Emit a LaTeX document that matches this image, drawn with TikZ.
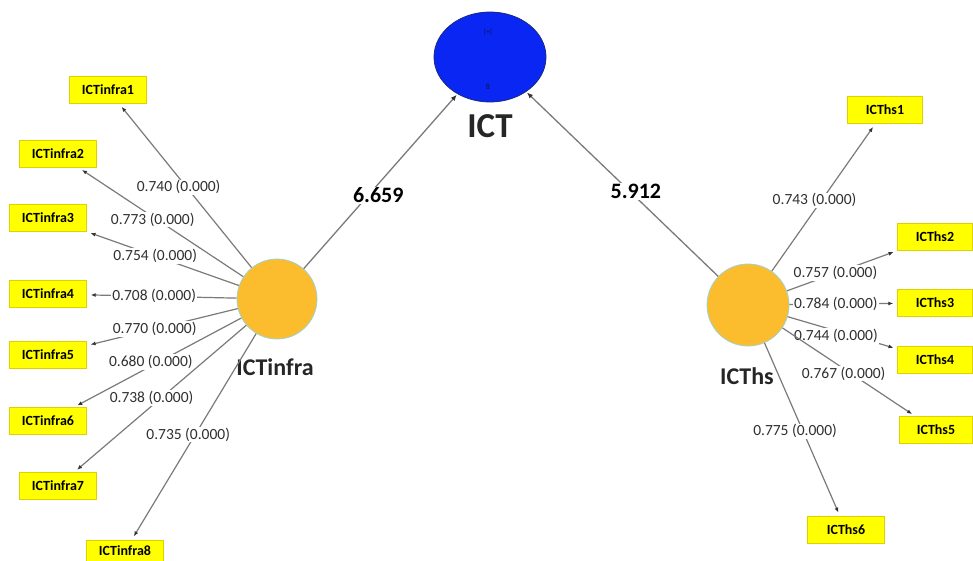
\documentclass[tikz,border=0pt]{standalone}
\usepackage{fontspec}
\setmainfont{Carlito}
\usetikzlibrary{arrows.meta, shapes.geometric}
\definecolor{lvfill}{HTML}{FBBD2E}
\definecolor{lvedge}{HTML}{9FD3D0}
\definecolor{ictfill}{HTML}{0A26F2}
\definecolor{ictedge}{HTML}{1A2A80}
\definecolor{ictmark}{HTML}{10143C}
\definecolor{indfill}{HTML}{FFFF00}
\definecolor{indedge}{HTML}{E0D000}
\definecolor{edge}{HTML}{7A7A7A}
\definecolor{tipdark}{HTML}{333333}
\definecolor{valtext}{HTML}{303030}
\newcommand{\indfont}{\fontsize{14}{16}\selectfont\bfseries}
\newcommand{\valfont}{\fontsize{15.5}{17}\selectfont}

\begin{document}
\begin{tikzpicture}[x=1pt, y=-1pt,
      lv/.style={circle, draw=lvedge, line width=0.8pt, fill=lvfill, minimum size=80pt, inner sep=0pt},
      ind/.style={draw=indedge, line width=0.4pt, fill=indfill, minimum width=77pt, minimum height=27pt,
        inner sep=0pt, font=\indfont},
      ld/.style={draw=edge, line width=1.2pt, -{Latex[length=5pt, width=4pt, color=tipdark]}, shorten >=4pt},
      beta/.style={draw=edge, line width=1.3pt, -{Latex[length=6pt, width=5pt, color=tipdark]}, shorten >=1pt},
      val/.style={fill=white, inner sep=1pt, text=valtext, font=\valfont},
      coef/.style={fill=white, inner sep=1pt, font=\fontsize{22}{24}\selectfont\bfseries},
      lvname/.style={font=\fontsize{24}{26}\selectfont\bfseries, text=black!85}]
    \useasboundingbox (0,0) rectangle (973,560);
    % latent variables
    \node[ellipse, draw=ictedge, line width=0.8pt, fill=ictfill, minimum width=112pt, minimum height=90pt,
      inner sep=0pt] (ict) at (490,57) {};
    \node[font=\fontsize{7}{8}\selectfont, text=ictmark] (ictplus) at (488,32) {[+]};
    \node[font=\fontsize{8}{9}\selectfont, text=ictmark] (ictval) at (488,87) {8};
    \node[font=\fontsize{35}{37}\selectfont\bfseries, text=black!85] (ictname) at (490,126) {ICT};
    \node[lv] (infra) at (277,299) {};
    \node[lvname] (infraname) at (275,367) {ICTinfra};
    \node[lv, minimum size=82pt] (hs) at (748,305) {};
    \node[lvname] (hsname) at (747,376) {ICThs};
    % indicators of ICTinfra
    \node[ind] (i1) at (108,90) {ICTinfra1};
    \node[ind] (i2) at (58,154) {ICTinfra2};
    \node[ind] (i3) at (48,218) {ICTinfra3};
    \node[ind] (i4) at (48,294) {ICTinfra4};
    \node[ind] (i5) at (48,355) {ICTinfra5};
    \node[ind] (i6) at (48,421) {ICTinfra6};
    \node[ind] (i7) at (58,486) {ICTinfra7};
    \node[ind, minimum height=22pt] (i8) at (125,551) {ICTinfra8};
    % indicators of ICThs
    \node[ind, minimum width=75pt] (h1) at (885,110) {ICThs1};
    \node[ind, minimum width=75pt] (h2) at (935,237) {ICThs2};
    \node[ind, minimum width=75pt] (h3) at (935,303) {ICThs3};
    \node[ind, minimum width=75pt] (h4) at (935,360) {ICThs4};
    \node[ind, minimum width=73pt] (h5) at (936,430) {ICThs5};
    \node[ind] (h6) at (846,530) {ICThs6};
    % outer loadings
    \draw[ld] (infra) -- node[val, pos=0.49, xshift=-8pt] {0.740 (0.000)} (i1);
    \draw[ld] (infra) -- node[val, pos=0.55, yshift=-3pt] {0.773 (0.000)} (i2);
    \draw[ld] (infra) -- node[val, pos=0.55] {0.754 (0.000)} (i3);
    \draw[ld] (infra) -- node[val, pos=0.55] {0.708 (0.000)} (i4);
    \draw[ld] (infra) -- node[val, pos=0.55] {0.770 (0.000)} (i5);
    \draw[ld] (infra) -- node[val, pos=0.54, yshift=4pt] {0.680 (0.000)} (i6);
    \draw[ld] (infra) -- node[val, pos=0.55, yshift=8pt] {0.738 (0.000)} (i7);
    \draw[ld] (infra) -- node[val, pos=0.49, xshift=-7pt] {0.735 (0.000)} (i8);
    \draw[ld] (hs) -- node[val, pos=0.48, xshift=-7pt] {0.743 (0.000)} (h1);
    \draw[ld] (hs) -- node[val, pos=0.44] {0.757 (0.000)} (h2);
    \draw[ld] (hs) -- node[val, pos=0.43] {0.784 (0.000)} (h3);
    \draw[ld] (hs) -- node[val, pos=0.44, yshift=-5pt] {0.744 (0.000)} (h4);
    \draw[ld] (hs) -- node[val, pos=0.46, yshift=-5pt] {0.767 (0.000)} (h5);
    \draw[ld] (hs) -- node[val, pos=0.51, xshift=-8pt] {0.775 (0.000)} (h6);
    % path coefficients
    \draw[beta] (infra) -- node[coef, pos=0.42, xshift=10pt] {6.659} (ict);
    \draw[beta] (hs) -- node[coef, pos=0.46, xshift=6pt] {5.912} (ict);
  \end{tikzpicture}
\end{document}
